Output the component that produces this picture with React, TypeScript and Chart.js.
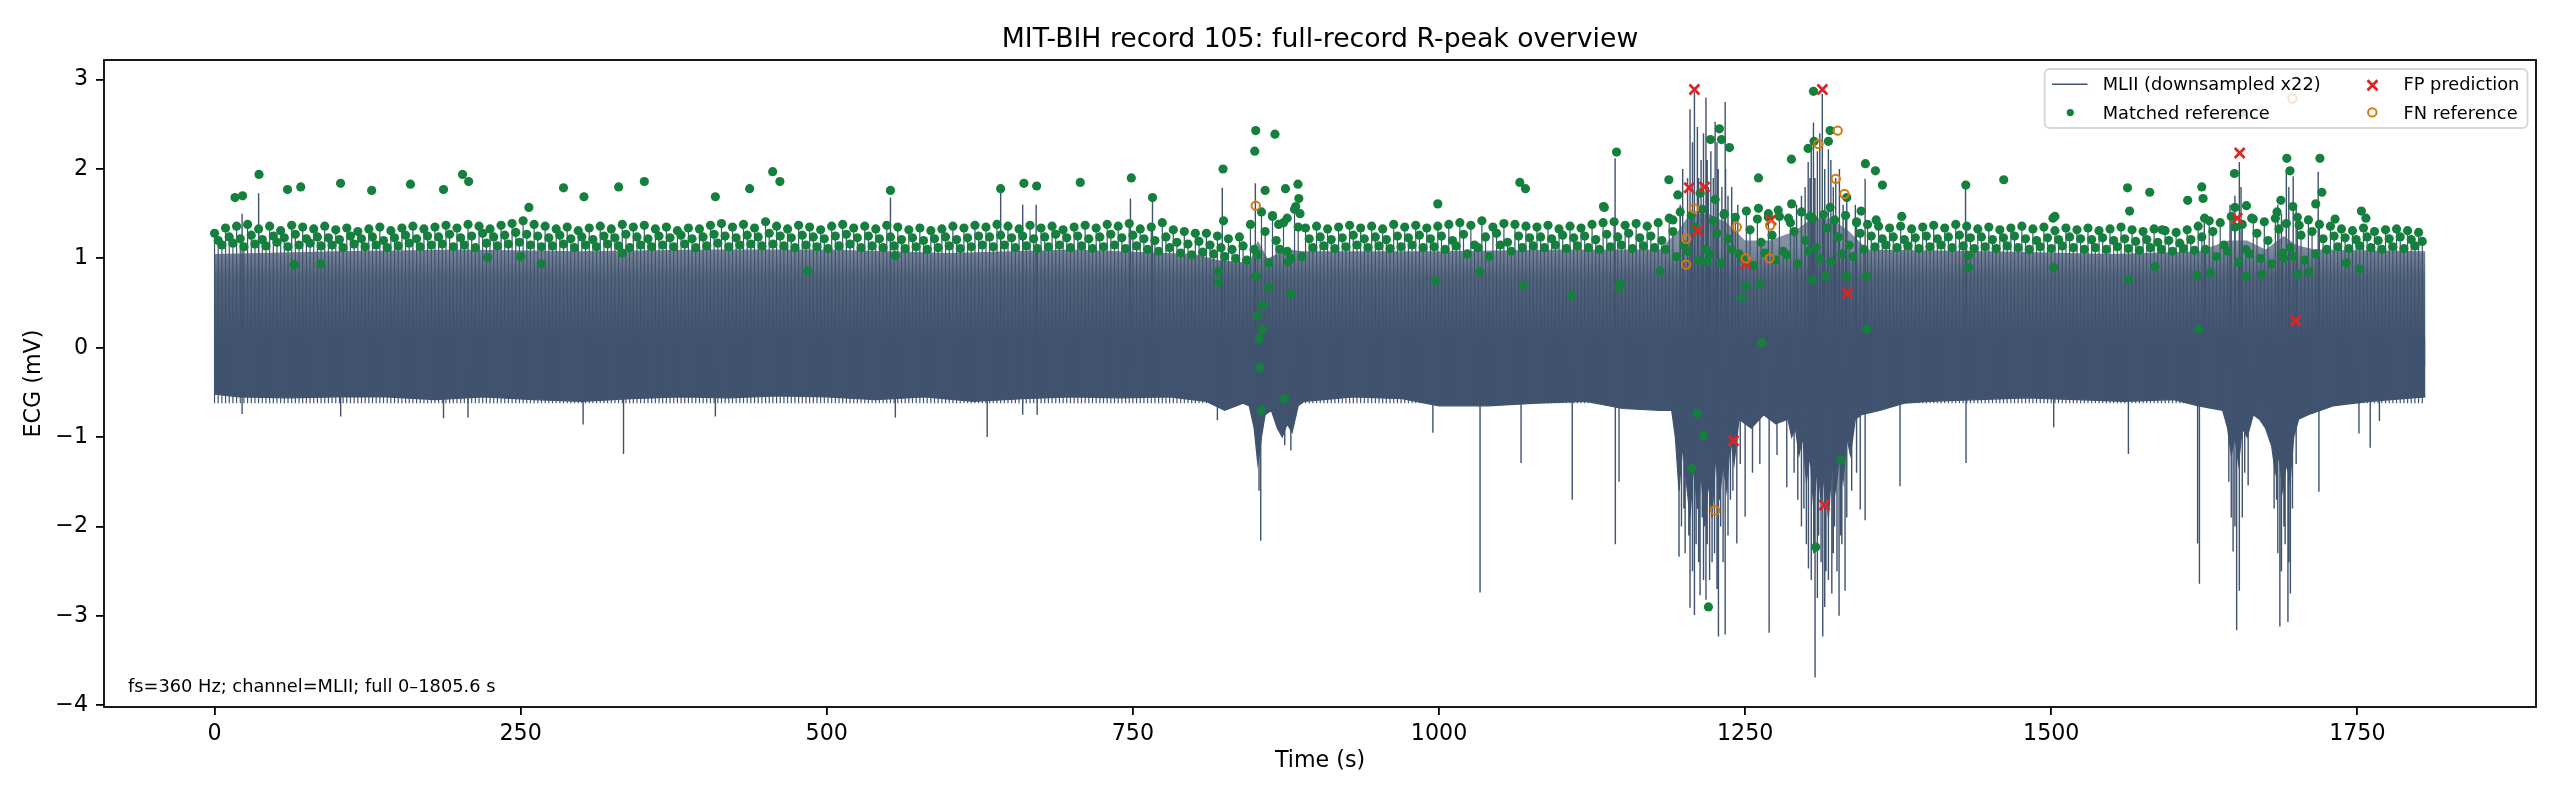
import { useEffect, useRef } from "react"
import { Chart, registerables } from "chart.js"

Chart.register(...registerables)

// ---------- values ----------
const xTicks = [0, 250, 500, 750, 1000, 1250, 1500, 1750]
const yTicks = [-4, -3, -2, -1, 0, 1, 2, 3]

// lower edge of the dense signal body (mV)
const lowerTime = [
  0, 20, 60, 100, 140, 180, 220, 260, 300, 340, 380, 420, 460, 500, 540, 580, 620, 660, 700, 740,
  780, 810, 825, 840, 845, 849, 852, 855, 858, 863, 868, 872, 876, 880, 885, 890, 930, 970, 1000, 1040,
  1080, 1120, 1150, 1180, 1190, 1193, 1196, 1199, 1202, 1205, 1208, 1211, 1214, 1217, 1220, 1223, 1226, 1229, 1232, 1235,
  1238, 1241, 1245, 1255, 1265, 1275, 1285, 1288, 1291, 1294, 1297, 1300, 1303, 1306, 1309, 1312, 1315, 1318, 1321, 1324,
  1327, 1330, 1333, 1336, 1340, 1345, 1360, 1380, 1400, 1440, 1480, 1520, 1560, 1600, 1620, 1640, 1644, 1647, 1650, 1653,
  1656, 1660, 1665, 1670, 1675, 1680, 1683, 1686, 1689, 1692, 1695, 1698, 1702, 1710, 1730, 1760, 1805.6,
]
const lowerEdge = [
  -0.52, -0.55, -0.56, -0.55, -0.55, -0.58, -0.55, -0.58, -0.6, -0.57, -0.55, -0.56, -0.54, -0.55, -0.58, -0.55, -0.6, -0.57, -0.55, -0.56,
  -0.55, -0.6, -0.7, -0.62, -0.65, -0.9, -1.3, -1.0, -0.75, -0.7, -0.9, -1.0, -0.85, -0.95, -0.65, -0.6, -0.55, -0.57, -0.65, -0.65,
  -0.62, -0.6, -0.68, -0.7, -0.7, -1.0, -1.6, -1.1, -1.5, -1.9, -1.3, -1.8, -1.4, -2.0, -1.5, -1.9, -1.2, -1.7, -1.3, -1.6,
  -1.0, -1.3, -0.8, -0.9, -0.75, -0.85, -0.8, -1.0, -0.9, -1.2, -1.0, -1.5, -1.2, -1.8, -1.3, -1.7, -1.4, -1.9, -1.3, -1.6,
  -1.2, -1.5, -1.0, -1.2, -0.8, -0.75, -0.7, -0.62, -0.6, -0.58, -0.56, -0.58, -0.6, -0.58, -0.65, -0.7, -0.9, -1.2, -1.0, -1.3,
  -0.9, -1.0, -0.75, -0.8, -0.9, -1.1, -1.4, -1.2, -1.6, -1.3, -1.5, -1.0, -0.8, -0.75, -0.65, -0.6, -0.55,
]

// top of the dense comb of beats (mV)
const combTime = [0, 100, 200, 300, 400, 500, 600, 700, 800, 820, 845, 852, 860, 875, 890, 1000, 1100, 1180, 1195, 1205, 1220, 1235, 1250, 1270, 1290, 1305, 1320, 1335, 1350, 1450, 1550, 1620, 1645, 1660, 1675, 1690, 1700, 1715, 1805.6]
const combEdge = [1.05, 1.08, 1.1, 1.08, 1.1, 1.1, 1.06, 1.1, 1.05, 0.98, 0.95, 1.2, 1.0, 1.1, 1.08, 1.08, 1.1, 1.1, 1.3, 1.5, 1.5, 1.4, 1.2, 1.2, 1.3, 1.45, 1.45, 1.3, 1.1, 1.08, 1.05, 1.08, 1.2, 1.2, 1.1, 1.25, 1.15, 1.1, 1.08]

const bodyLevel = 0.1
const combBase = -0.2
const baseLevel = -0.62

// large excursions of the signal
const spikeTime = [
  22.5, 36, 552, 642, 660, 671, 748, 766, 823, 850,
  1143.8, 1203, 1205, 1208.6, 1211, 1214, 1218, 1220, 1222, 1225.5,
  1228, 1233.7, 1236, 1240, 1296, 1301.5, 1303, 1305.8, 1309, 1313,
  1318, 1322, 1330, 1348, 1430, 1625, 1650, 1653.6, 1688, 1692,
  1697.6, 1718,
  1197, 1199, 1207, 1212, 1216, 1219, 1224, 1227, 1231, 1234,
  1239, 1244, 1292, 1299, 1304, 1307, 1311, 1315, 1320, 1324,
  1327, 1333, 1340, 1646, 1655, 1685, 1694, 1700,
  22.5, 103, 187, 207, 301, 334, 409, 556, 631, 660,
  671.8, 819, 853, 854.4, 874, 879, 995, 1033.5, 1067, 1108.8,
  1144, 1147, 1196, 1200, 1205, 1208.6, 1210, 1213.2, 1215, 1218,
  1223, 1228.2, 1230, 1233.7, 1238, 1243.2, 1250, 1269.6, 1284, 1298,
  1301.7, 1307.1, 1310, 1313.4, 1316, 1320.8, 1323, 1326.7, 1329, 1331.6,
  1344, 1348, 1376.5, 1430.4, 1502, 1563, 1619.5, 1621, 1648.5, 1651.4,
  1653.6, 1656, 1660.8, 1684, 1686.7, 1690, 1693.3, 1695.3, 1718.6, 1751.3,
  1760.5, 1768,
  1198, 1201, 1204, 1207, 1212, 1216, 1219, 1221, 1225, 1227,
  1232, 1236, 1240, 1246, 1256, 1262, 1276, 1290, 1293, 1296,
  1300, 1304, 1306, 1309, 1312, 1315, 1318, 1322, 1325, 1328,
  1333, 1337, 1341, 1645, 1647, 1650, 1658, 1682, 1685, 1688,
  1691, 1694, 1697, 1700,
]
const spikeValue = [
  1.5, 1.73, 1.68, 1.78, 1.6, 1.6, 1.67, 1.65, 1.79, 1.84,
  2.12, 1.9, 2.67, 2.86, 2.47, 2.1, 2.8, 1.8, 2.2, 2.53,
  2.0, 2.75, 1.7, 1.5, 1.7, 2.08, 1.9, 2.52, 2.2, 2.84,
  2.22, 1.8, 1.6, 1.89, 1.8, 1.43, 1.7, 2.08, 1.5, 2.0,
  1.92, 1.97,
  1.6, 2.0, 2.3, 1.9, 2.4, 2.1, 1.9, 2.3, 1.8, 2.0,
  1.8, 1.6, 1.6, 1.8, 2.3, 1.9, 2.4, 2.0, 2.1, 1.9,
  2.0, 1.7, 1.6, 1.6, 1.8, 1.6, 1.8, 1.6,
  -0.74, -0.77, -0.79, -0.78, -0.86, -1.19, -0.77, -0.78, -1.0, -0.75,
  -0.75, -0.81, -1.6, -2.16, -1.09, -1.15, -0.95, -2.74, -1.29, -1.7,
  -2.2, -1.5, -2.34, -1.8, -2.91, -2.99, -2.2, -2.77, -1.9, -2.82,
  -2.4, -3.23, -2.0, -3.21, -1.7, -2.19, -1.89, -3.19, -1.56, -1.8,
  -2.47, -3.69, -2.1, -3.23, -2.5, -2.75, -2.0, -3.0, -2.2, -2.72,
  -1.81, -1.93, -1.55, -1.29, -0.89, -1.19, -2.19, -2.64, -2.28, -3.16,
  -2.72, -1.9, -1.54, -1.7, -3.12, -2.0, -3.07, -2.75, -1.61, -0.96,
  -1.12, -0.82,
  -2.0, -2.3, -2.1, -2.5, -2.4, -2.6, -2.2, -2.6, -2.3, -2.7,
  -2.4, -2.1, -1.6, -1.3, -1.4, -1.3, -1.2, -1.4, -1.7, -2.0,
  -2.2, -2.6, -2.3, -2.8, -2.4, -2.9, -2.6, -2.3, -2.5, -2.1,
  -1.9, -1.6, -1.4, -1.5, -1.9, -2.0, -1.4, -1.8, -2.3, -2.5,
  -2.2, -2.4, -1.8, -1.3,
]
const spikeBase = -0.25

// dense band of matched R-peaks: three rows, one value every 9 s (rows offset by 0, 3, 6 s)
const bandStep = 9
const bandOffsets = [0, 3, 6]
const bandUpper = [
  1.28, 1.34, 1.36, 1.38, 1.33, 1.36, 1.31, 1.37, 1.35, 1.33,
  1.36, 1.32, 1.34, 1.30, 1.33, 1.35, 1.31, 1.34, 1.36, 1.33,
  1.35, 1.37, 1.34, 1.38, 1.36, 1.33, 1.37, 1.39, 1.42, 1.38,
  1.36, 1.33, 1.35, 1.31, 1.34, 1.36, 1.33, 1.38, 1.35, 1.37,
  1.33, 1.35, 1.31, 1.34, 1.33, 1.37, 1.39, 1.35, 1.38, 1.34,
  1.41, 1.36, 1.33, 1.37, 1.35, 1.32, 1.36, 1.38, 1.34, 1.36,
  1.33, 1.37, 1.35, 1.32, 1.34, 1.31, 1.33, 1.36, 1.34, 1.37,
  1.35, 1.38, 1.36, 1.33, 1.37, 1.34, 1.36, 1.32, 1.35, 1.37,
  1.34, 1.38, 1.36, 1.39, 1.33, 1.35, 1.40, 1.32, 1.30, 1.28,
  1.28, 1.25, 1.22, 1.24, 1.38, 1.52, 1.47, 1.40, 1.55, 1.34,
  1.36, 1.33, 1.35, 1.37, 1.34, 1.36, 1.33, 1.38, 1.35, 1.37,
  1.34, 1.36, 1.38, 1.40, 1.37, 1.42, 1.35, 1.39, 1.38, 1.36,
  1.35, 1.37, 1.33, 1.36, 1.34, 1.38, 1.40, 1.41, 1.37, 1.39,
  1.36, 1.40, 1.45, 1.52, 1.48, 1.55, 1.42, 1.50, 1.46, 1.53,
  1.44, 1.50, 1.47, 1.40, 1.52, 1.45, 1.49, 1.43, 1.48, 1.41,
  1.38, 1.36, 1.34, 1.36, 1.33, 1.35, 1.37, 1.34, 1.38, 1.36,
  1.33, 1.35, 1.32, 1.34, 1.36, 1.33, 1.35, 1.31, 1.34, 1.32,
  1.34, 1.31, 1.33, 1.35, 1.32, 1.30, 1.33, 1.31, 1.29, 1.32,
  1.36, 1.42, 1.40, 1.47, 1.38, 1.44, 1.41, 1.45, 1.39, 1.46,
  1.43, 1.38, 1.36, 1.33, 1.31, 1.34, 1.30, 1.32, 1.33, 1.31,
  1.29,
]
const bandMid = [
  1.20, 1.24, 1.22, 1.26, 1.21, 1.25, 1.23, 1.27, 1.22, 1.24,
  1.23, 1.21, 1.25, 1.22, 1.24, 1.20, 1.23, 1.26, 1.22, 1.25,
  1.24, 1.27, 1.23, 1.25, 1.28, 1.24, 1.26, 1.29, 1.27, 1.25,
  1.23, 1.26, 1.22, 1.24, 1.21, 1.25, 1.23, 1.27, 1.24, 1.22,
  1.25, 1.23, 1.26, 1.22, 1.24, 1.27, 1.25, 1.23, 1.26, 1.24,
  1.28, 1.25, 1.23, 1.26, 1.24, 1.22, 1.25, 1.27, 1.23, 1.25,
  1.22, 1.24, 1.21, 1.23, 1.20, 1.22, 1.24, 1.21, 1.23, 1.25,
  1.24, 1.26, 1.23, 1.25, 1.22, 1.24, 1.27, 1.23, 1.25, 1.22,
  1.24, 1.27, 1.23, 1.26, 1.22, 1.20, 1.24, 1.18, 1.16, 1.19,
  1.15, 1.12, 1.10, 1.14, 1.10, 1.30, 1.20, 1.08, 1.35, 1.22,
  1.24, 1.21, 1.23, 1.26, 1.22, 1.24, 1.21, 1.25, 1.23, 1.26,
  1.22, 1.25, 1.20, 1.27, 1.15, 1.24, 1.28, 1.18, 1.25, 1.23,
  1.24, 1.22, 1.26, 1.23, 1.25, 1.21, 1.27, 1.24, 1.28, 1.23,
  1.25, 1.20, 1.30, 1.15, 1.35, 1.10, 1.28, 1.22, 1.05, 1.32,
  1.18, 1.26, 1.08, 1.30, 1.20, 1.12, 1.34, 1.24, 1.15, 1.28,
  1.25, 1.22, 1.24, 1.21, 1.23, 1.25, 1.22, 1.24, 1.26, 1.23,
  1.24, 1.21, 1.23, 1.25, 1.22, 1.20, 1.23, 1.21, 1.24, 1.22,
  1.21, 1.23, 1.20, 1.22, 1.19, 1.21, 1.18, 1.20, 1.17, 1.21,
  1.24, 1.30, 1.15, 1.35, 1.10, 1.28, 1.20, 1.33, 1.12, 1.26,
  1.30, 1.22, 1.25, 1.23, 1.21, 1.24, 1.20, 1.22, 1.24, 1.21,
  1.19,
]
const bandLower = [
  1.15, 1.17, 1.13, 1.16, 1.14, 1.18, 1.13, 1.15, 1.17, 1.14,
  1.15, 1.12, 1.16, 1.13, 1.15, 1.12, 1.14, 1.17, 1.13, 1.15,
  1.16, 1.13, 1.15, 1.12, 1.17, 1.14, 1.16, 1.18, 1.15, 1.13,
  1.14, 1.16, 1.12, 1.15, 1.13, 1.16, 1.14, 1.12, 1.15, 1.13,
  1.15, 1.13, 1.16, 1.12, 1.14, 1.17, 1.13, 1.15, 1.16, 1.14,
  1.16, 1.14, 1.12, 1.15, 1.13, 1.11, 1.14, 1.16, 1.12, 1.14,
  1.12, 1.14, 1.11, 1.13, 1.10, 1.12, 1.14, 1.11, 1.13, 1.15,
  1.13, 1.15, 1.12, 1.14, 1.11, 1.13, 1.15, 1.12, 1.14, 1.11,
  1.13, 1.15, 1.11, 1.14, 1.10, 1.08, 1.12, 1.06, 1.04, 1.07,
  1.05, 1.02, 1.00, 0.98, 1.04, 0.95, 1.10, 1.00, 1.02, 1.12,
  1.14, 1.11, 1.13, 1.15, 1.12, 1.14, 1.11, 1.13, 1.15, 1.12,
  1.13, 1.10, 1.14, 1.05, 1.12, 1.02, 1.15, 1.08, 1.12, 1.14,
  1.12, 1.15, 1.11, 1.14, 1.12, 1.10, 1.13, 1.15, 1.11, 1.14,
  1.12, 1.10, 1.02, 1.08, 0.98, 1.05, 0.95, 1.10, 1.00, 0.92,
  1.06, 0.98, 1.04, 0.94, 1.08, 1.00, 0.96, 1.05, 1.02, 1.10,
  1.13, 1.15, 1.12, 1.14, 1.11, 1.13, 1.15, 1.12, 1.14, 1.11,
  1.13, 1.11, 1.14, 1.12, 1.10, 1.13, 1.11, 1.14, 1.12, 1.10,
  1.12, 1.10, 1.13, 1.11, 1.09, 1.12, 1.10, 1.08, 1.11, 1.09,
  1.10, 1.02, 1.08, 0.96, 1.05, 1.00, 0.94, 1.06, 1.02, 0.98,
  1.05, 1.10, 1.13, 1.11, 1.14, 1.12, 1.10, 1.13, 1.11, 1.14,
  1.12,
]

// matched references away from the band
const matchedTime = [
  16.7, 22.9, 36.3, 59.6, 70.4, 102.9, 128.3, 160, 187, 202.5, 207.5, 256.7, 285, 301.7, 330, 351, 409, 437, 455.8, 461.7, 552,
  65, 86.7, 223, 250, 266.7, 333, 484.6, 556,
  642, 661, 671.4, 707, 748.7, 766, 823.6, 824, 849.5, 850.3, 866, 858, 864, 869, 874.6, 876, 883, 884.8, 885.5, 886.5, 999, 1066, 1070.6, 1135, 1145, 1187.7, 1195,
  819.8, 820, 850.7, 851.6, 853, 853.7, 855, 855.6, 855.8, 861, 873.7, 876.8, 878.8, 997, 1033.5, 1069, 1108, 1148,
  1134.3, 1146.8, 1180.6, 1191, 1206.4, 1210.5, 1213.3, 1216, 1218.7, 1220, 1221.7, 1225.5, 1229, 1230.7, 1232.8, 1237.2, 1247.3, 1251, 1260.9, 1260.9, 1262, 1263.6, 1269, 1277, 1285.4, 1287.8, 1288,
  1301.4, 1303, 1305, 1305.8, 1306.3, 1307.7, 1316, 1318, 1319.4, 1319.4, 1328.1, 1333, 1333, 1341, 1344.7, 1348.2, 1349, 1349.3, 1356.4, 1357, 1362.1, 1377.9, 1430.2, 1432.4, 1432.4,
  1461.2, 1501.4, 1502, 1503, 1562.3, 1563, 1564, 1580.4, 1584.7, 1590.5, 1611.4, 1619, 1620.6, 1622.9, 1624, 1625.2, 1630, 1649.6, 1650, 1655, 1659, 1659.4, 1663.7, 1672,
  1684.4, 1687.5, 1690, 1692.4, 1695, 1697.3, 1701.6, 1702.5, 1710.5, 1716, 1719.4, 1721, 1731.8, 1741, 1752, 1753.3, 1757,
]
const matchedValue = [
  1.68, 1.7, 1.94, 1.77, 1.8, 1.84, 1.76, 1.83, 1.77, 1.94, 1.86, 1.57, 1.79, 1.69, 1.8, 1.86, 1.69, 1.78, 1.97, 1.86, 1.76,
  0.93, 0.94, 1.01, 1.02, 0.94, 1.06, 0.86, 1.03,
  1.78, 1.84, 1.81, 1.85, 1.9, 1.68, 2.0, 1.42, 2.2, 2.43, 2.39, 1.76, 1.48, 1.38, 1.78, 1.45, 1.58, 1.83, 1.67, 1.5, 1.61, 1.85, 1.78, 1.57, 2.19, 1.88, 1.71,
  0.85, 0.73, 0.8, 0.36, 0.1, -0.22, -0.7, 0.2, 0.47, 0.68, -0.57, 0.96, 0.6, 0.75, 0.85, 0.7, 0.58, 0.72,
  1.58, 0.67, 0.86, 1.43, -1.35, -0.73, 1.73, -0.98, 0.96, -2.9, 2.33, 1.66, 2.45, 2.33, 1.49, 2.24, 0.56, 0.69, 1.9, 1.56, 0.71, 0.06, 1.46, 1.54, 1.45, 2.11, 1.61,
  2.23, 1.47, 0.76, 2.87, 2.31, -2.23, 0.8, 2.31, 2.43, 1.57, -1.26, 1.68, 0.8, 1.4, 1.53, 2.06, 0.8, 0.21, 1.98, 1.43, 1.82, 1.47, 1.82, 1.03, 0.9,
  1.88, 1.45, 0.9, 1.47, 1.79, 0.76, 1.53, 1.74, 0.91, 1.32, 1.65, 0.81, 0.21, 1.8, 1.67, 1.45, 0.84, 1.95, 1.57, 2.62, 0.8, 1.59, 1.45, 0.82,
  1.52, 1.65, 1.0, 2.12, 1.98, 1.58, 0.82, 1.37, 0.85, 1.61, 2.12, 1.74, 1.44, 0.95, 0.88, 1.53, 1.45,
]

const fpTime = [1204.3, 1208.6, 1211.3, 1216.8, 1240.5, 1250.5, 1271.2, 1313.1, 1314.8, 1333.5, 1651.9, 1653.9, 1699.6]
const fpValue = [1.79, 2.89, 1.31, 1.8, -1.04, 0.94, 1.43, 2.89, -1.76, 0.61, 1.45, 2.18, 0.3]

const fnTime = [850.3, 1201.8, 1201.8, 1208.4, 1225.5, 1243.2, 1250.5, 1269.9, 1270.4, 1309.9, 1324, 1325.6, 1331.1, 1697]
const fnValue = [1.59, 1.22, 0.93, 1.56, -1.82, 1.35, 1.0, 1.0, 1.37, 2.28, 1.89, 2.43, 1.72, 2.79]

// ---------- styling ----------
const SIG = "#40536e"
const GREEN = "#15803d"
const RED = "#dc2626"
const ORANGE = "#d97706"
const FONT = "'DejaVu Sans', sans-serif"
const TITLE = "MIT-BIH record 105: full-record R-peak overview"
const NOTE = "fs=360 Hz; channel=MLII; full 0\u20131805.6 s"

const pairs = (ts: number[], vs: number[]) => ts.map((t, i) => ({ x: t, y: vs[i] }))

function bandPoints() {
  const rows = [bandUpper, bandMid, bandLower]
  const out: { x: number; y: number }[] = []
  rows.forEach((row, r) => {
    row.forEach((v, i) => {
      const t = i * bandStep + bandOffsets[r]
      if (t <= 1805.6) out.push({ x: t, y: v })
    })
  })
  return out.sort((a, b) => a.x - b.x)
}

// vertical strokes from a base level to each value, broken by nulls
function segments(pts: { x: number; y: number }[], base: number) {
  const out: { x: number; y: number | null }[] = []
  pts.forEach((p) => {
    out.push({ x: p.x, y: base }, { x: p.x, y: p.y }, { x: p.x, y: null })
  })
  return out
}

const overlay = {
  id: "overlay",
  afterDraw(chart: any) {
    const { ctx, chartArea: a } = chart
    ctx.save()
    ctx.strokeStyle = "#000"
    ctx.lineWidth = 1.8
    ctx.strokeRect(a.left, a.top, a.right - a.left, a.bottom - a.top)

    ctx.fillStyle = "#000"
    ctx.textAlign = "center"
    ctx.textBaseline = "alphabetic"
    ctx.font = `26.7px ${FONT}`
    ctx.fillText(TITLE, (a.left + a.right) / 2, a.top - 13.3)
    ctx.font = `22.2px ${FONT}`
    ctx.fillText("Time (s)", (a.left + a.right) / 2, 767)
    ctx.save()
    ctx.translate(34, (a.top + a.bottom) / 2)
    ctx.rotate(-Math.PI / 2)
    ctx.textBaseline = "middle"
    ctx.fillText("ECG (mV)", 0, 0)
    ctx.restore()

    ctx.textAlign = "left"
    ctx.font = `17.8px ${FONT}`
    ctx.fillText(NOTE, a.left + 24, 692)

    // legend
    ctx.beginPath()
    ctx.roundRect(2044.7, 69, 482.8, 59, 5)
    ctx.fillStyle = "rgba(255,255,255,0.8)"
    ctx.fill()
    ctx.strokeStyle = "rgba(204,204,204,0.8)"
    ctx.lineWidth = 1.8
    ctx.stroke()

    ctx.strokeStyle = SIG
    ctx.lineWidth = 1.4
    ctx.beginPath()
    ctx.moveTo(2052, 84.3)
    ctx.lineTo(2087.5, 84.3)
    ctx.stroke()

    ctx.fillStyle = GREEN
    ctx.beginPath()
    ctx.arc(2070.3, 112.6, 3.6, 0, Math.PI * 2)
    ctx.fill()

    ctx.strokeStyle = RED
    ctx.lineWidth = 2.8
    ctx.beginPath()
    ctx.moveTo(2367.5, 80.3)
    ctx.lineTo(2377.5, 90.3)
    ctx.moveTo(2377.5, 80.3)
    ctx.lineTo(2367.5, 90.3)
    ctx.stroke()

    ctx.strokeStyle = ORANGE
    ctx.lineWidth = 2
    ctx.beginPath()
    ctx.arc(2372.3, 112.4, 4.2, 0, Math.PI * 2)
    ctx.stroke()

    ctx.fillStyle = "#000"
    ctx.fillText("MLII (downsampled x22)", 2102.7, 90.3)
    ctx.fillText("Matched reference", 2102.7, 118.6)
    ctx.fillText("FP prediction", 2403.5, 90.3)
    ctx.fillText("FN reference", 2403.5, 118.6)
    ctx.restore()
  },
}

export default function App() {
  const canvasRef = useRef<HTMLCanvasElement>(null)

  useEffect(() => {
    if (!canvasRef.current) return
    Chart.defaults.font.family = FONT

    const band = bandPoints()
    const matched = band.concat(pairs(matchedTime, matchedValue))
    const spikes = segments(pairs(spikeTime, spikeValue), spikeBase)
    const comb = segments(band, baseLevel)

    const lineBase = {
      type: "line" as const,
      pointRadius: 0,
      borderWidth: 0,
      tension: 0,
      spanGaps: false,
    }

    const chart = new Chart(canvasRef.current, {
      type: "line",
      data: {
        datasets: [
          {
            label: "FN reference",
            data: pairs(fnTime, fnValue),
            showLine: false,
            pointStyle: "circle",
            pointRadius: 4.2,
            pointBackgroundColor: "rgba(0,0,0,0)",
            pointBorderColor: ORANGE,
            pointBorderWidth: 2,
            order: 0,
          },
          {
            label: "FP prediction",
            data: pairs(fpTime, fpValue),
            showLine: false,
            pointStyle: "crossRot",
            pointRadius: 7,
            pointBorderColor: RED,
            pointBorderWidth: 2.8,
            order: 1,
          },
          {
            label: "Matched reference",
            data: matched,
            showLine: false,
            pointStyle: "circle",
            pointRadius: 4.6,
            pointBackgroundColor: GREEN,
            pointBorderWidth: 0,
            order: 2,
          },
          { ...lineBase, label: "spikes", data: spikes, borderColor: SIG, borderWidth: 1.4, order: 3 },
          { ...lineBase, label: "comb", data: comb, borderColor: SIG, borderWidth: 1.2, order: 4 },
          {
            ...lineBase,
            label: "combFill",
            data: pairs(combTime, combEdge),
            fill: { value: combBase },
            backgroundColor: (c: any) => {
              const { chart: ch } = c
              const { ctx, chartArea, scales } = ch
              if (!chartArea) return "rgba(64,83,110,0.9)"
              const y0 = scales.y.getPixelForValue(bodyLevel)
              const y1 = scales.y.getPixelForValue(1.15)
              const g = ctx.createLinearGradient(0, y0, 0, y1)
              g.addColorStop(0, "rgba(64,83,110,1)")
              g.addColorStop(0.65, "rgba(64,83,110,0.9)")
              g.addColorStop(1, "rgba(64,83,110,0.65)")
              return g
            },
            order: 5,
          },
          {
            ...lineBase,
            label: "body",
            data: pairs(lowerTime, lowerEdge),
            fill: { value: bodyLevel },
            backgroundColor: SIG,
            borderColor: SIG,
            borderWidth: 1.2,
            order: 6,
          },
        ],
      },
      options: {
        responsive: false,
        devicePixelRatio: 1,
        animation: false,
        events: [],
        layout: { padding: { left: 0, top: 60, right: 24, bottom: 0 } },
        plugins: { legend: { display: false }, tooltip: { enabled: false } },
        scales: {
          x: {
            type: "linear",
            min: -90.28,
            max: 1895.88,
            afterBuildTicks: (s: any) => {
              s.ticks = xTicks.map((v) => ({ value: v }))
            },
            afterFit: (s: any) => {
              s.height = 93
            },
            grid: { drawOnChartArea: false, drawTicks: true, tickLength: 8, color: "#000", lineWidth: 1.8 },
            border: { display: false },
            ticks: {
              font: { size: 22.2, family: FONT },
              color: "#000",
              padding: 6,
              maxRotation: 0,
              callback: (v: any) => String(v),
            },
          },
          y: {
            type: "linear",
            min: -4.02,
            max: 3.22,
            afterBuildTicks: (s: any) => {
              s.ticks = yTicks.map((v) => ({ value: v }))
            },
            afterFit: (s: any) => {
              s.width = 104
            },
            grid: { drawOnChartArea: false, drawTicks: true, tickLength: 8, color: "#000", lineWidth: 1.8 },
            border: { display: false },
            ticks: {
              font: { size: 22.2, family: FONT },
              color: "#000",
              padding: 8,
              callback: (v: any) => (v < 0 ? "\u2212" + Math.abs(v) : String(v)),
            },
          },
        },
      },
      plugins: [overlay],
    } as any)

    return () => chart.destroy()
  }, [])

  return (
    <div style={{ position: "absolute", left: 0, top: 0, width: 2560, height: 800, background: "#fff" }}>
      <canvas ref={canvasRef} width={2560} height={800} style={{ width: 2560, height: 800, display: "block" }} />
    </div>
  )
}
